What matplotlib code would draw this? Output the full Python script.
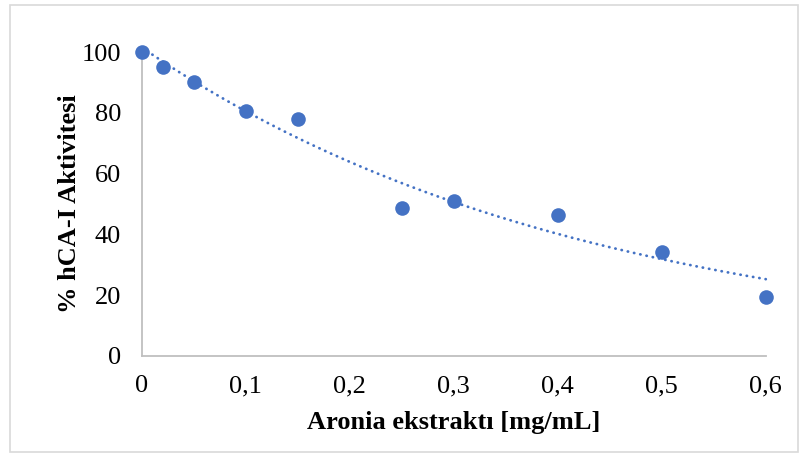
import numpy as np
import matplotlib
matplotlib.use("Agg")
import matplotlib.pyplot as plt
from matplotlib.patches import Rectangle

# concentration of extract (mg/mL) and remaining enzyme activity (%)
conc = [0, 0.02, 0.05, 0.1, 0.15, 0.25, 0.3, 0.4, 0.5, 0.6]
activity = [100, 95.2, 90.2, 80.5, 78.0, 48.8, 51.1, 46.3, 34.2, 19.5]
xticks = [0, 0.1, 0.2, 0.3, 0.4, 0.5, 0.6]
xtick_labels = ["0", "0,1", "0,2", "0,3", "0,4", "0,5", "0,6"]
yticks = [0, 20, 40, 60, 80, 100]

blue = "#4472C4"
plt.rcParams["font.family"] = ["Liberation Serif", "DejaVu Serif"]

fig = plt.figure(figsize=(8.01, 4.55), dpi=100)
ax = fig.add_axes([0.177, 0.2176, 0.779, 0.668])

# exponential trendline, weighted log fit (close to a least-squares fit in y)
x = np.array(conc)
y = np.array(activity)
b, log_a = np.polyfit(x, np.log(y), 1, w=np.sqrt(y))
xs = np.linspace(0, 0.6, 200)
ax.plot(xs, np.exp(log_a) * np.exp(b * xs), color=blue, lw=2.0,
        linestyle=(0, (0.1, 2.2)), dash_capstyle="round", zorder=2)

ax.plot(conc, activity, "o", color=blue, markersize=10.5, zorder=3,
        markeredgewidth=0)

ax.set_xlim(0, 0.6)
ax.set_ylim(0, 100)
ax.set_xticks(xticks)
ax.set_xticklabels(xtick_labels)
ax.set_yticks(yticks)
ax.tick_params(length=0, labelsize=19)
ax.tick_params(axis="y", pad=15)
ax.tick_params(axis="x", pad=14)
for s in ["top", "right"]:
    ax.spines[s].set_visible(False)
for s in ["left", "bottom"]:
    ax.spines[s].set_color("#bfbfbf")
    ax.spines[s].set_linewidth(1.3)
for line in ax.lines:
    line.set_clip_on(False)

ax.set_xlabel("Aronia ekstraktı [mg/mL]", fontsize=19, fontweight="bold", labelpad=10)
ax.set_ylabel("% hCA-I Aktivitesi", fontsize=19, fontweight="bold", labelpad=0)

fig.patches.append(Rectangle((10 / 801, 3 / 455), 788 / 801, 447 / 455,
                             transform=fig.transFigure, fill=False,
                             edgecolor="#d9d9d9", lw=1.2))

fig.savefig("out.png", dpi=100)
